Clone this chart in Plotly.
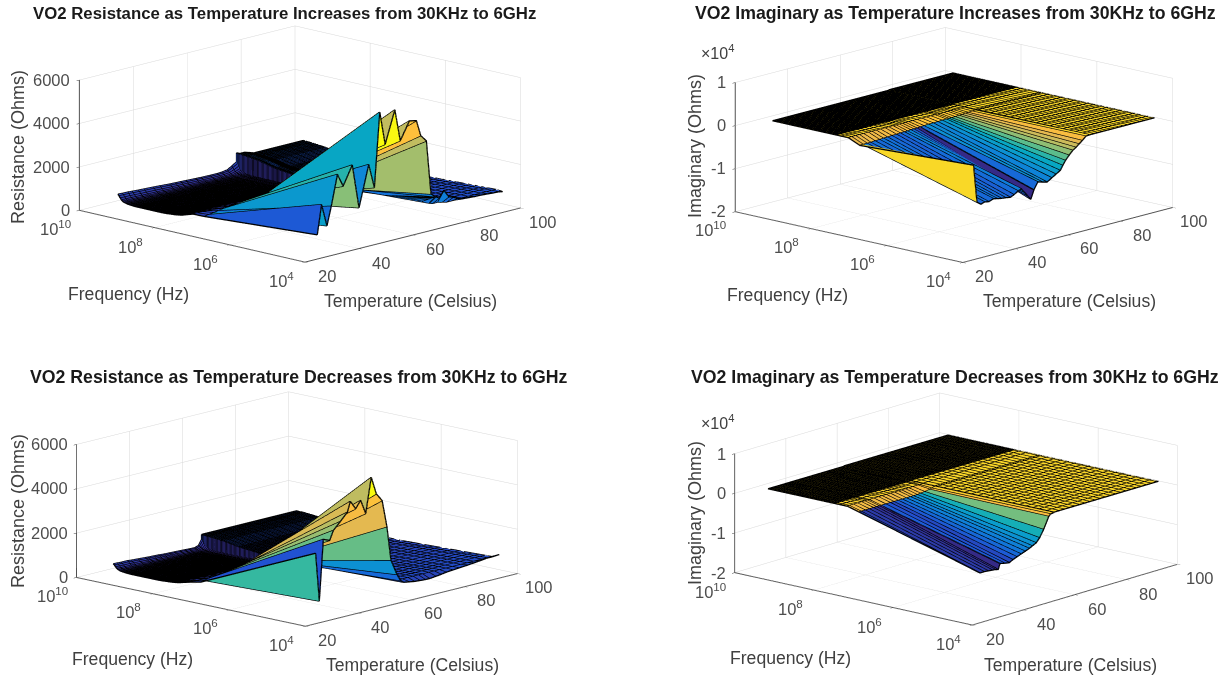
import math
import plotly.graph_objects as go

# ---------- frequency columns (MHz) ----------
freq_tail_mhz = [130, 140, 151, 163, 176, 190, 205, 221, 239, 258,
                 279, 301, 325, 351, 379, 410, 442, 478, 516, 557,
                 602, 650, 702, 758, 819, 884, 955, 1031, 1114, 1203,
                 1299, 1403, 1515, 1637, 1768, 1909, 2062, 2227, 2405, 2597,
                 2805, 3030, 3272, 3534, 3816, 4122, 4452, 4808, 5192, 5608, 6000]
freq_sweep_mhz = [0.03, 30, 60, 90, 120] + freq_tail_mhz
freq_fine_mhz = [0.03, 0.045, 0.07, 0.1, 0.15, 0.22, 0.33, 0.5, 0.75, 1.1, 1.6, 2.4, 3.6, 5.4, 8, 12, 18, 26,
                 30, 60, 90, 120] + freq_tail_mhz

# relative level of the resistance along the frequency columns
res_profile_sweep = [1, 1, 0.75, 0.55, 0.4,
                     0.38, 0.36, 0.34, 0.32, 0.3, 0.29, 0.28, 0.27, 0.26, 0.25,
                     0.24, 0.22, 0.22, 0.21, 0.21, 0.2, 0.2, 0.2, 0.2, 0.2,
                     0.2, 0.2, 0.2, 0.2, 0.2, 0.2, 0.2, 0.2, 0.2, 0.2,
                     0.2, 0.2, 0.2, 0.2, 0.2, 0.2, 0.2, 0.21, 0.22, 0.23,
                     0.24, 0.25, 0.27, 0.29, 0.32, 0.36, 0.42, 0.52, 0.68, 0.86, 1.0]
res_profile_fine = [1, 0.98, 0.96, 0.94, 0.92, 0.9, 0.88, 0.86, 0.84, 0.82, 0.8, 0.78, 0.76, 0.74, 0.72, 0.7, 0.7, 0.7,
                    0.7, 0.72, 0.74, 0.76,
                    0.77, 0.78, 0.79, 0.8, 0.81, 0.82, 0.83, 0.84, 0.85, 0.86,
                    0.87, 0.88, 0.89, 0.9, 0.91, 0.92, 0.93, 0.94, 0.95, 0.96,
                    0.97, 0.98, 1.0, 1.02, 1.04, 1.06, 1.08, 1.1, 1.12, 1.14,
                    1.16, 1.18, 1.2, 1.21, 1.22, 1.23, 1.24, 1.25, 1.26, 1.27,
                    1.28, 1.29, 1.3, 1.31, 1.31, 1.32, 1.32, 1.33, 1.33, 1.34, 1.35]

# ---------- panel 1: resistance, temperature increasing ----------
p1_temp_a = [31.2, 32.8, 34.8, 36.4, 38.7, 40.8, 44.2, 46.7, 50.3, 52.4, 54.4, 56.4, 60, 62, 65.4, 68, 69.6, 71.7, 73.4, 75.2]
p1_low_a = [716, 2060, 1020, 1870, 3270, 2660, 3530, 1480, 3360, 2230, 5650, 4100, 5580, 4090, 4900, 4830, 4090, 3780, 1280, 1100]
p1_next_a = [370, 400, 430, 470, 510, 540, 590, 620, 660, 680, 700, 720, 700, 650, 600, 550, 500, 450, 420, 400]
p1_rest_a = [480, 470, 465, 450, 430, 420, 400, 380, 350, 340, 330, 320, 300, 290, 280, 280, 290, 330, 450, 600]
p1_temp_b = [75.2, 76.4, 78.2, 80, 81.6, 83.2, 84.8, 87.2, 89.6, 92, 94.4, 96.4, 98.4, 100]
p1_low_b = [1100, 1000, 1300, 950, 880, 780, 700, 680, 660, 650, 630, 610, 600, 560]
p1_rest_b = [750, 700, 700, 650, 600, 600, 600, 600, 600, 600, 600, 600, 600, 600]

# ---------- panel 3: resistance, temperature decreasing ----------
p3_temp_a = [30.7, 32.1, 33.6, 36, 37.4, 40, 42.7, 43.8, 45.8, 47.7, 49.6, 51.7, 53.6, 55.8, 57.6, 59.1, 61.4, 62.8, 64]
p3_low_a = [2800, 600, 3340, 3220, 3630, 3950, 4300, 4750, 4360, 4680, 4030, 5600, 4800, 4430, 3200, 1650, 930, 610, 500]
p3_next_a = [400, 430, 470, 500, 520, 550, 570, 580, 590, 600, 610, 620, 620, 600, 560, 540, 450, 380, 350]
p3_rest_a = [380, 370, 360, 360, 340, 320, 300, 290, 280, 270, 250, 240, 230, 220, 210, 200, 190, 250, 500]
p3_temp_b = [64, 66, 68, 70, 72, 73.6, 76, 78, 80, 82.4, 84.8, 88, 90.4, 92.8, 96, 98, 100]
p3_low_b = [500, 460, 420, 400, 385, 380, 410, 440, 480, 505, 530, 560, 590, 620, 670, 675, 680]
p3_rest_b = [530, 530, 530, 530, 530, 530, 530, 530, 530, 530, 530, 530, 530, 530, 530, 530, 530]

# ---------- panel 2: imaginary, temperature increasing (units of 1e4 ohm) ----------
p2_temp_a = [31, 32.3, 33.8, 35.2, 36.8, 38.6, 40, 41.6, 43.2, 45, 46.4, 48, 49.2, 50.4, 51.6, 52.8, 54, 55.5, 57.2, 59,
             60.8, 62.4, 64, 65, 66, 67.4, 68.8, 70, 71.2, 72.4, 73.8, 75.2]
p2_low_a = [-0.01, -0.89, -0.96, -0.93, -0.95, -0.91, -0.93, -0.95, -0.96, -0.98, -0.94, -0.88, -0.85, -0.95, -1.05, -1.15,
            -0.95, -0.79, -0.82, -0.85, -0.78, -0.72, -0.66, -0.56, -0.46, -0.36, -0.27, -0.22, -0.16, -0.1, -0.02, -0.01]
p2_next_a = [-0.14, -0.14, -0.14, -0.14, -0.13, -0.13, -0.12, -0.12, -0.11, -0.11, -0.1, -0.1, -0.1, -0.09, -0.09, -0.09,
             -0.08, -0.08, -0.07, -0.07, -0.07, -0.06, -0.06, -0.06, -0.06, -0.06, -0.05, -0.05, -0.04, -0.04, -0.03, -0.03]
p2_rest_a = [-0.02] * 32
p2_temp_b = [75.2, 76.8, 78.4, 80, 81.6, 83.2, 84.8, 86.4, 88, 89.6, 91.2, 92.8, 94.4, 96, 97.6, 99.2, 100]
p2_low_b = [-0.01] * 17
p2_rest_b = [-0.01] * 17

# ---------- panel 4: imaginary, temperature decreasing (units of 1e4 ohm) ----------
p4_temp_a = [29.6, 30.4, 32, 33.6, 35.2, 36.4, 37.5, 38.2, 40, 41.8, 43.2, 44.8, 46.4, 48, 49.6, 50.8, 52.3, 53.6, 55.2, 57.2, 57.9, 59.2]
p4_low_a = [-0.95, -0.99, -0.99, -1.0, -1.01, -1.02, -1.04, -0.9, -0.93, -0.95, -0.9, -0.86, -0.82, -0.78, -0.74, -0.7, -0.65, -0.55, -0.37, -0.08, -0.03, -0.02]
p4_next_a = [-0.1, -0.1, -0.1, -0.1, -0.1, -0.1, -0.1, -0.1, -0.1, -0.1, -0.1, -0.1, -0.1, -0.1, -0.1, -0.1, -0.1, -0.09, -0.08, -0.06, -0.04, -0.02]
p4_rest_a = [-0.02] * 22
p4_temp_b = [59.2, 61.2, 63.2, 65.2, 67.2, 69.2, 71.2, 73.2, 75.2, 77.2, 79.2, 81.2, 83.2, 85.2, 87.2, 89.2, 91.2, 93.2, 95.2, 97.2, 99.2, 100]
p4_low_b = [-0.01] * 22
p4_rest_b = [-0.01] * 22

flat_sweep = [1.0] * len(freq_sweep_mhz)
flat_fine = [1.0] * len(freq_fine_mhz)
imag_color_top = 1000

titles = ["VO2 Resistance as Temperature Increases from 30KHz to 6GHz",
          "VO2 Imaginary as Temperature Increases from 30KHz to 6GHz",
          "VO2 Resistance as Temperature Decreases from 30KHz to 6GHz",
          "VO2 Imaginary as Temperature Decreases from 30KHz to 6GHz"]
freq_ticks = [1e4, 1e6, 1e8, 1e10]
freq_labels = ["10<sup>4</sup>", "10<sup>6</sup>", "10<sup>8</sup>", "10<sup>10</sup>"]
temp_ticks = [20, 40, 60, 80, 100]
res_ticks = [0, 2000, 4000, 6000]
imag_ticks = [-20000, -10000, 0, 10000]
imag_labels = ["-2", "-1", "0", "1"]

parula = [[0.0, "#352a87"], [0.1, "#2053d4"], [0.2, "#1079da"], [0.3, "#0c93d2"], [0.4, "#07a9c2"],
          [0.5, "#38b99e"], [0.6, "#7cbf7b"], [0.7, "#b7bd64"], [0.8, "#e9b94e"], [0.85, "#fdbe3d"],
          [0.9, "#f9d32a"], [1.0, "#f9fb0e"]]

W, H = 1227, 677
TICK_FONT = dict(family="Liberation Sans, Arial", size=16.5, color="#4d4d4d")


def rows_block(temps, low, nxt, rest, freqs, profile, scale):
    out = []
    for i, T in enumerate(temps):
        zs = [rest[i] * p * scale for p in profile]
        zs[0] = low[i] * scale
        if nxt is not None:
            zs[1] = nxt[i] * scale
        out.append((T, [f * 1e6 for f in freqs], zs))
    return out


def add_panel(fig, scene, blocks, ctop=None):
    allz = [z for b in blocks for r in b for z in r[2]]
    cmin, cmax = min(allz), max(allz) if ctop is None else ctop
    X, Y, Z, I, J, K, C = [], [], [], [], [], [], []
    lx, ly, lz = [], [], []
    for b in blocks:
        base = len(X)
        nc = len(b[0][1])
        for T, fs, zs in b:
            X += [T] * nc
            Y += fs
            Z += zs
            lx += [T] * nc + [None]
            ly += fs + [None]
            lz += zs + [None]
        for c in range(nc):
            for T, fs, zs in b:
                lx.append(T)
                ly.append(fs[c])
                lz.append(zs[c])
            lx.append(None)
            ly.append(None)
            lz.append(None)
        for r in range(len(b) - 1):
            for c in range(nc - 1):
                a = base + r * nc + c
                bb = a + 1
                d = a + nc
                e = d + 1
                I += [a, a]
                J += [bb, e]
                K += [e, d]
                C += [b[r][2][c]] * 2
    # the two sweeps share one temperature row: close the seam between them
    (T0, f0, z0), (T1, f1, z1) = blocks[0][-1], blocks[1][0]
    base = len(X)
    n0 = len(f0)
    X += [T0] * n0 + [T1] * len(f1)
    Y += f0 + f1
    Z += z0 + z1
    match = [min(range(n0), key=lambda m: abs(math.log10(f0[m]) - math.log10(f))) for f in f1]
    for c in range(len(f1) - 1):
        a, b_, d, e = base + match[c], base + match[c + 1], base + n0 + c, base + n0 + c + 1
        I += [a, a]
        J += [b_, e]
        K += [e, d]
        C += [z0[match[c]]] * 2
    for c in range(len(f1)):
        lx += [T0, T1, None]
        ly += [f0[match[c]], f1[c], None]
        lz += [z0[match[c]], z1[c], None]
    fig.add_trace(go.Mesh3d(x=X, y=Y, z=Z, i=I, j=J, k=K, intensity=C, intensitymode="cell",
                            colorscale=parula, cmin=cmin, cmax=cmax, showscale=False, flatshading=True,
                            lighting=dict(ambient=1, diffuse=0, specular=0, roughness=1, fresnel=0),
                            hoverinfo="skip", scene=scene))
    fig.add_trace(go.Scatter3d(x=lx, y=ly, z=lz, mode="lines", line=dict(color="#000000", width=2.6),
                               hoverinfo="skip", showlegend=False, scene=scene))


fig = go.Figure()
add_panel(fig, "scene", [rows_block(p1_temp_a, p1_low_a, p1_next_a, p1_rest_a, freq_sweep_mhz, res_profile_sweep, 1),
                         rows_block(p1_temp_b, p1_low_b, None, p1_rest_b, freq_fine_mhz, res_profile_fine, 1)])
add_panel(fig, "scene2", [rows_block(p2_temp_a, p2_low_a, p2_next_a, p2_rest_a, freq_sweep_mhz, flat_sweep, 1e4),
                          rows_block(p2_temp_b, p2_low_b, None, p2_rest_b, freq_fine_mhz, flat_fine, 1e4)], imag_color_top)
add_panel(fig, "scene3", [rows_block(p3_temp_a, p3_low_a, p3_next_a, p3_rest_a, freq_sweep_mhz, res_profile_sweep, 1),
                          rows_block(p3_temp_b, p3_low_b, None, p3_rest_b, freq_fine_mhz, res_profile_fine, 1)])
add_panel(fig, "scene4", [rows_block(p4_temp_a, p4_low_a, p4_next_a, p4_rest_a, freq_sweep_mhz, flat_sweep, 1e4),
                          rows_block(p4_temp_b, p4_low_b, None, p4_rest_b, freq_fine_mhz, flat_fine, 1e4)], imag_color_top)


def tick_notes(zticks, zlabels, zmin):
    notes = []
    base = dict(showarrow=False, font=TICK_FONT, yanchor="middle")
    for v, lab in zip(zticks, zlabels):
        notes.append(dict(base, x=20, y=10, z=v, text=lab, xanchor="right", xshift=-7))
    for v, lab in zip(freq_ticks, freq_labels):
        notes.append(dict(base, x=20, y=math.log10(v), z=zmin, text=lab, xanchor="center", xshift=-24, yshift=-18))
    for v in temp_ticks:
        notes.append(dict(base, x=v, y=4, z=zmin, text=str(v), xanchor="center", xshift=22, yshift=-14))
    return notes


def scene_layout(cx, cy, zrange, zticks, zlabels, theta, elev, zratio, size):
    hw, hh = 265, 144
    th, el = math.radians(theta), math.radians(elev)
    ax = dict(showbackground=False, showgrid=True, gridcolor="#d8d8d8", gridwidth=1, zeroline=False,
              showline=True, linecolor="#505050", linewidth=2, ticks="outside", ticklen=4, tickcolor="#404040",
              showticklabels=False, title=dict(text=""), showspikes=False)
    r = 1.6
    return dict(
        domain=dict(x=[(cx - hw) / W, (cx + hw) / W], y=[1 - (cy + hh) / H, 1 - (cy - hh) / H]),
        xaxis=dict(ax, range=[20, 100], tickvals=temp_ticks),
        yaxis=dict(ax, type="log", range=[4, 10], tickvals=freq_ticks),
        zaxis=dict(ax, range=zrange, tickvals=zticks),
        aspectmode="manual", aspectratio=dict(x=size, y=size, z=zratio * size),
        annotations=tick_notes(zticks, zlabels, zrange[0]),
        camera=dict(projection=dict(type="orthographic"), center=dict(x=0, y=0, z=0), up=dict(x=0, y=0, z=1),
                    eye=dict(x=-math.cos(th) * math.cos(el) * r, y=-math.sin(th) * math.cos(el) * r, z=math.sin(el) * r)),
        bgcolor="rgba(0,0,0,0)")


res_lab = [str(v) for v in res_ticks]
fig.update_layout(
    width=W, height=H, margin=dict(l=0, r=0, t=0, b=0), paper_bgcolor="white", showlegend=False,
    scene=scene_layout(300, 144, [0, 6000], res_ticks, res_lab, 43.7, 13.9, 0.43, 2.167),
    scene2=scene_layout(953.5, 144.5, [-20000, 10000], imag_ticks, imag_labels, 42.7, 14, 0.43, 2.15),
    scene3=scene_layout(297, 508.5, [0, 6000], res_ticks, res_lab, 42.8, 13.3, 0.438, 2.167),
    scene4=scene_layout(956.3, 509, [-20000, 10000], imag_ticks, imag_labels, 40.8, 14.8, 0.392, 2.18),
)


def note(text, x, y, size=14, color="#404040", angle=0, bold=False):
    fig.add_annotation(text=f"<b>{text}</b>" if bold else text, x=x / W, y=1 - y / H, xref="paper", yref="paper",
                       showarrow=False, textangle=angle, xanchor="center", yanchor="middle",
                       font=dict(family="Liberation Sans, Arial", size=size, color=color))


for t, (x, y), s in zip(titles, [(284, 13), (955, 13), (299, 377), (955.5, 377)], [16.8, 17.7, 17.7, 17.7]):
    note(t, x, y, size=s, color="#1a1a1a", bold=True)
for x, y in [(128, 294), (787, 295), (132, 659), (790, 658)]:
    note("Frequency (Hz)", x, y, size=17.6)
for x, y in [(410, 301), (1069, 301), (412, 665), (1070, 665)]:
    note("Temperature (Celsius)", x, y, size=17.6)
note("Resistance (Ohms)", 18, 147, size=18, angle=-90)
note("Resistance (Ohms)", 18, 511, size=18, angle=-90)
note("Imaginary (Ohms)", 695, 146, size=18, angle=-90)
note("Imaginary (Ohms)", 695, 513, size=18, angle=-90)
note("×10<sup>4</sup>", 717, 52, size=16)
note("×10<sup>4</sup>", 717, 422, size=16)

fig.write_html("out.html", config=dict(displayModeBar=False), post_script="document.body.style.margin='0';")
